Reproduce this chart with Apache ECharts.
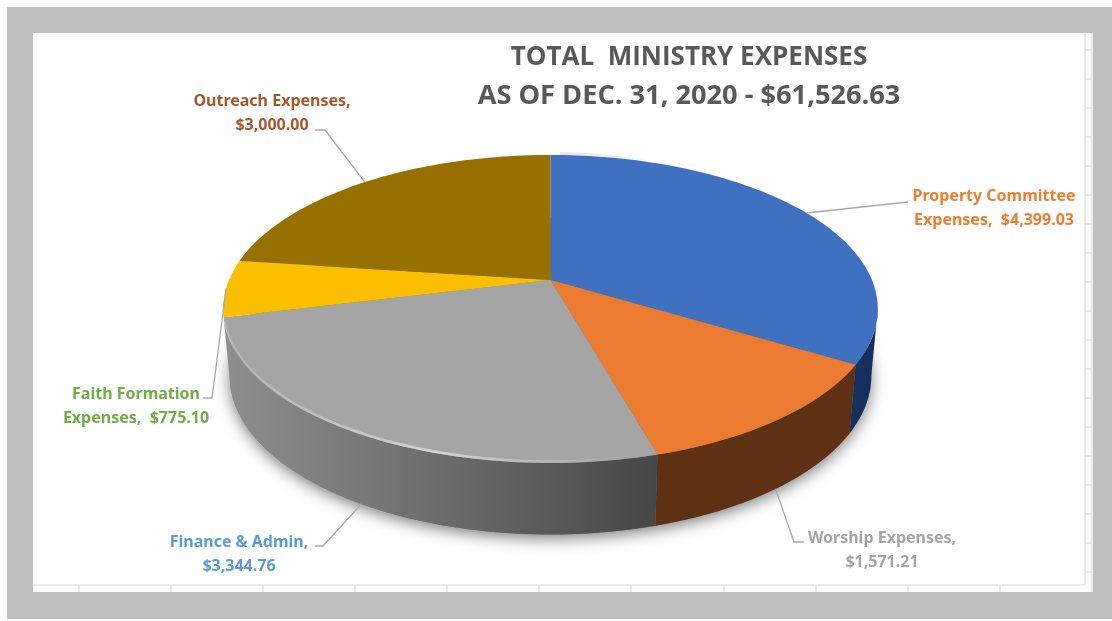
<!DOCTYPE html>
<html>
<head>
<meta charset="utf-8">
<style>
html,body{margin:0;padding:0;background:#fff}
#c{width:1112px;height:621px;filter:blur(0.5px)}
</style>
<script src="https://cdn.jsdelivr.net/npm/echarts@6/dist/echarts.min.js"></script>
</head>
<body>
<div id="c"></div>
<script>
// ---- data ----
const names = ['Property Committee Expenses', 'Worship Expenses', 'Finance & Admin', 'Faith Formation Expenses', 'Outreach Expenses'];
const values = [4399.03, 1571.21, 3344.76, 775.10, 3000.00];
const labelTexts = ['Property Committee\nExpenses,  $4,399.03', 'Worship Expenses,\n$1,571.21', 'Finance & Admin,\n$3,344.76', 'Faith Formation\nExpenses,  $775.10', 'Outreach Expenses,\n$3,000.00'];
const titleLines = ['TOTAL  MINISTRY EXPENSES', 'AS OF DEC. 31, 2020 - $61,526.63'];

// ---- styles ----
const topColors = ['#4070c0', '#ea7b30', '#a5a5a5', '#fcbf00', '#967000'];
const labelColors = ['#ed7d31', '#a5a5a5', '#5b9bd5', '#70ad47', '#a9562a'];
const wallColors = ['#15305c', '#5f3113', {
  type: 'linear', x: 228, y: 0, x2: 656, y2: 0, global: true,
  colorStops: [{offset: 0, color: '#8e8e8e'}, {offset: .55, color: '#686868'}, {offset: 1, color: '#474747'}]
}, null, null];

// ---- layout of the perspective disc ----
const cx = 550.5, topY = 280, K = 0.188, RX = 321.5, RY = 148.6;
const botY = 346, botSX = 0.98, botSY = 1.03;
const wallFrom = 100.8, wallTo = 259.2;
const labelPos = [[994, 208], [882, 550], [239, 554], [136, 406], [272, 113]];
const elbowA = [[908, 202], [794, 542], [323, 546], [212, 398], [325, 130]];
const elbowB = [[908, 202], [804, 542], [315, 546], [203, 398], [315, 130]];
const anchorOnWall = [false, true, true, false, false];

const total = values.reduce((a, b) => a + b, 0);
const starts = []; let acc = 0;
values.forEach(v => { starts.push(acc / total * 360); acc += v; });

function project(deg, bottom) {
  const t = deg * Math.PI / 180, u = Math.sin(t), v = -Math.cos(t), w = 1 / (1 - K * v);
  return bottom
    ? [cx + botSX * RX * u * w, botY + botSY * RY * v * w]
    : [cx + RX * u * w, topY + RY * v * w];
}
function arc(a0, a1, bottom) {
  const n = Math.max(2, Math.ceil(Math.abs(a1 - a0) / 1.5)), pts = [];
  for (let i = 0; i <= n; i++) pts.push(project(a0 + (a1 - a0) * i / n, bottom));
  return pts;
}
const span = i => [starts[i], starts[i] + values[i] / total * 360];

function renderWall(params) {
  const i = params.dataIndex, children = [];
  if (i === 0) {
    children.push({type: 'polygon', shape: {points: arc(0, 360, true)},
      style: {fill: '#777', shadowColor: 'rgba(0,0,0,0.5)', shadowBlur: 15, shadowOffsetY: 4}});
  }
  const [a0, a1] = span(i);
  const from = Math.max(a0, wallFrom), to = Math.min(a1, wallTo);
  if (wallColors[i] && to > from) {
    children.push({type: 'polygon',
      shape: {points: arc(from, to, false).concat(arc(to, from, true))},
      style: {fill: wallColors[i]}});
  }
  return {type: 'group', children};
}
function renderTop(params) {
  const i = params.dataIndex, [a0, a1] = span(i), children = [];
  const mid = (a0 + a1) / 2;
  children.push({type: 'polygon',
    shape: {points: [[cx, topY]].concat(arc(a0, a1, false))},
    style: {fill: topColors[i]}});
  if (wallColors[i] && a1 - a0 > 60) {
    const rim = arc(a0 + 2, a1 - 2, false).map(p => [p[0], p[1] - 1.5]);
    children.push({type: 'polyline', shape: {points: rim}, style: {
      fill: null, lineWidth: 2.6, stroke: {
        type: 'linear', x: 228, y: 0, x2: 656, y2: 0, global: true,
        colorStops: [{offset: 0, color: 'rgba(205,205,205,.4)'}, {offset: .5, color: 'rgba(215,215,215,.95)'},
          {offset: .8, color: 'rgba(195,195,195,.4)'}, {offset: 1, color: 'rgba(170,170,170,0)'}]
      }}});
  }
  const p = project(mid, anchorOnWall[i]);
  children.push({type: 'polyline', shape: {points: [p, elbowA[i], elbowB[i]]},
    style: {fill: null, stroke: '#a9a9a9', lineWidth: 1.3}});
  children.push({type: 'text', x: labelPos[i][0], y: labelPos[i][1], style: {
    text: labelTexts[i], fill: labelColors[i], align: 'center', verticalAlign: 'middle',
    font: 'bold 16px "Noto Sans"', lineHeight: 24}});
  return {type: 'group', children};
}

// ---- sheet frame and faint cell lines ----
const frame = [];
const rect = (x, y, w, h, fill) => frame.push({type: 'rect', silent: true, z: -10, shape: {x, y, width: w, height: h}, style: {fill}});
rect(7, 7, 1105, 612, '#bfbfbf');
rect(33, 33, 1060, 559, '#ffffff');
const gridLine = (x1, y1, x2, y2) => frame.push({type: 'line', silent: true, z: -9, shape: {x1, y1, x2, y2}, style: {stroke: '#dcdcdc', lineWidth: 1.2}});
gridLine(33, 585, 1085, 585);
gridLine(1085, 33, 1085, 585);
gridLine(1092, 33, 1092, 592);
[79, 171, 263, 355, 447, 539, 631, 724, 816, 908, 1000].forEach(x => gridLine(x, 585, x, 592));
[50, 79, 108, 137, 166, 195, 224, 253, 282, 311, 340, 369, 398, 427, 456, 485, 514, 543, 572].forEach(y => gridLine(1085, y, 1092, y));

const chart = echarts.init(document.getElementById('c'), null, {renderer: 'canvas'});
chart.setOption({
  animation: false,
  backgroundColor: '#ffffff',
  title: {
    text: '{a|' + titleLines[0] + '}\n{b|' + titleLines[1] + '}', left: 684, top: 34, textAlign: 'center',
    textStyle: {
      rich: {
        a: {fontFamily: '"Open Sans"', fontWeight: 'bold', fontSize: 26, lineHeight: 38, color: '#595959'},
        b: {fontFamily: '"Open Sans"', fontWeight: 'bold', fontSize: 27.2, lineHeight: 38, color: '#595959'}
      }
    }
  },
  graphic: {elements: frame},
  series: [
    {type: 'custom', coordinateSystem: 'none', z: 2, silent: true, renderItem: renderWall,
      data: names.map((n, i) => ({name: n, value: values[i]}))},
    {type: 'custom', coordinateSystem: 'none', z: 3, silent: true, renderItem: renderTop,
      data: names.map((n, i) => ({name: n, value: values[i]}))}
  ]
});
</script>
</body>
</html>
